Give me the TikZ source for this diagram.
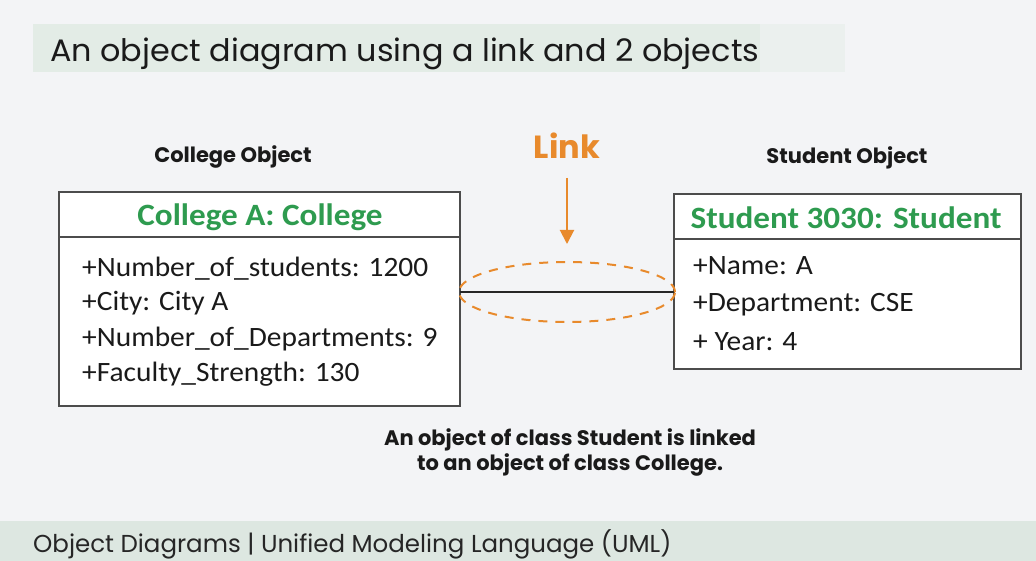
\documentclass[tikz,border=0pt]{standalone}
\usepackage{fontspec}
\setmainfont{Carlito}
\newfontfamily\pop{Poppins}
\usetikzlibrary{arrows.meta,shapes.geometric}
\definecolor{bg}{HTML}{F3F4F6}
\definecolor{band}{HTML}{E3ECE6}
\definecolor{foot}{HTML}{DDE7E1}
\definecolor{orng}{HTML}{E88A2C}
\definecolor{grn}{HTML}{2E9B4F}
\definecolor{ink}{HTML}{1A1A1A}
\tikzset{
  box/.style={draw=black!70, line width=1.2pt, fill=white},
  hdr/.style={font=\fontsize{31}{34}\selectfont\bfseries, text=grn, anchor=center, xscale=1.07},
  attr/.style={font=\fontsize{28}{30}\selectfont, text=ink, anchor=base west, inner sep=0pt, xscale=1.05},
  lbl/.style={font=\pop\bfseries\fontsize{21}{24}\selectfont, text=ink},
}
\begin{document}
\begin{tikzpicture}[x=1pt,y=-1pt]
\useasboundingbox (0,0) rectangle (1036,561);
\fill[bg] (0,0) rectangle (1036,561);
\fill[band] (33,24) rectangle (760,72);
\fill[band!50!bg] (760,24) rectangle (845,72);
\node[anchor=base west, inner sep=0pt, xscale=1.028, font=\pop\fontsize{31}{33}\selectfont, text=ink] (title) at (50,62) {An object diagram using a link and 2 objects};
\fill[foot] (0,521) rectangle (1036,561);
\node[anchor=base west, inner sep=0pt, font=\pop\fontsize{24.5}{27}\selectfont, text=black!85] (footer) at (33,552) {Object Diagrams | Unified Modeling Language (UML)};

% College box
\draw[box] (59,192) rectangle (460,406);
\draw[black!70, line width=1.2pt] (59,237) -- (460,237);
\coordinate (cw) at (460,292);
\node[hdr] (ch) at (260,217) {College A: College};
\node[attr] (c1) at (82,277) {+Number\_of\_students: 1200};
\node[attr] (c2) at (82,311) {+City: City A};
\node[attr] (c3) at (82,346) {+Number\_of\_Departments: 9};
\node[attr] (c4) at (82,381) {+Faculty\_Strength: 130};
\node[lbl] (cl) at (233,157) {College Object};

% Student box
\draw[box] (674,194) rectangle (1021,369);
\draw[black!70, line width=1.2pt] (674,239) -- (1021,239);
\coordinate (se) at (674,292);
\node[hdr] (sh) at (846,218) {Student 3030: Student};
\node[attr] (s1) at (693,275) {+Name: A};
\node[attr] (s2) at (693,312) {+Department: CSE};
\node[attr] (s3) at (693,350) {+ Year: 4};
\node[lbl] (sl) at (847,158) {Student Object};

% link
\draw[black!85, line width=2pt] (cw) -- (se);
\node[draw=orng, dash pattern=on 9pt off 8pt, line width=2pt, ellipse, minimum width=216pt, minimum height=60pt, inner sep=0pt] (ell) at (567,292) {};
\node[font=\pop\bfseries\fontsize{32}{34}\selectfont, text=orng] (link) at (567,146) {Link};
\coordinate (at) at (567,178);
\coordinate (ah) at (567,244);
\draw[orng, line width=2pt, -{Triangle[width=14pt,length=14pt]}] (at) -- (ah);

\node[lbl, align=center, font=\pop\bfseries\fontsize{21}{25}\selectfont] (note) at (570,452) {An object of class Student is linked\\to an object of class College.};
\end{tikzpicture}
\end{document}
